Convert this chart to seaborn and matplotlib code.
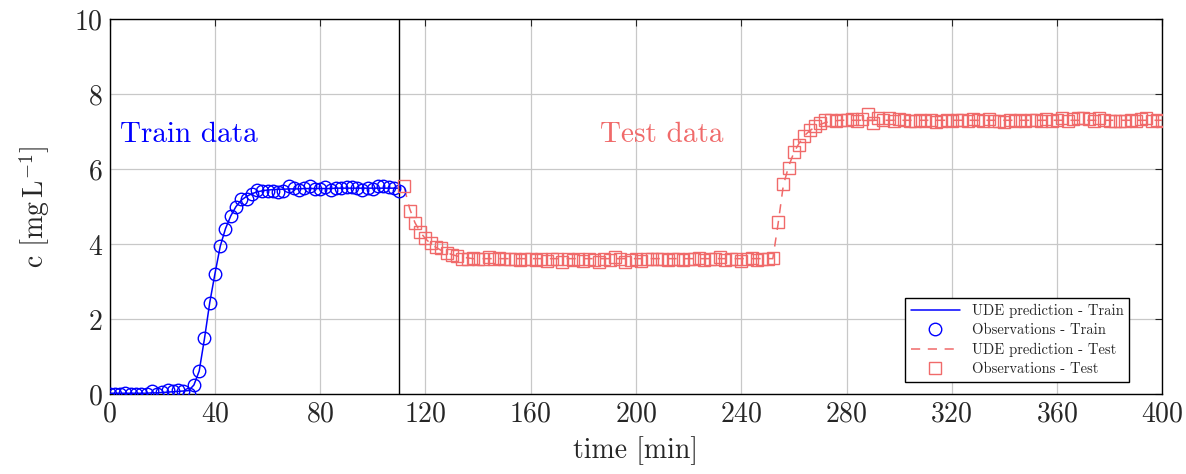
import numpy as np
import pandas as pd
import seaborn as sns
import matplotlib.pyplot as plt
from matplotlib.lines import Line2D

# sampling grids [min]
t_train = np.arange(0, 111, 2)
t_test = np.arange(112, 401, 2)

obs_train = [0.02, 0.00, 0.02, 0.04, 0.02, 0.00, 0.02, 0.00, 0.09, 0.02, 0.05, 0.11,
             0.09, 0.11, 0.08, 0.02, 0.26, 0.62, 1.50, 2.44, 3.22, 3.96, 4.42, 4.75,
             5.00, 5.20, 5.22, 5.35, 5.44, 5.42, 5.43, 5.42, 5.40, 5.42, 5.57, 5.50,
             5.44, 5.50, 5.55, 5.48, 5.47, 5.52, 5.45, 5.50, 5.50, 5.52, 5.52, 5.50,
             5.44, 5.50, 5.48, 5.57, 5.55, 5.53, 5.50, 5.42]
pred_train = [0.03, 0.03, 0.03, 0.03, 0.03, 0.03, 0.03, 0.03, 0.04, 0.04, 0.05, 0.06,
              0.07, 0.08, 0.09, 0.10, 0.25, 0.62, 1.48, 2.44, 3.22, 3.95, 4.42, 4.76,
              5.01, 5.18, 5.28, 5.35, 5.40, 5.43, 5.45, 5.46, 5.47, 5.47, 5.48, 5.48,
              5.48, 5.49, 5.49, 5.49, 5.49, 5.49, 5.49, 5.50, 5.50, 5.50, 5.50, 5.50,
              5.50, 5.50, 5.50, 5.50, 5.50, 5.50, 5.50, 5.50]

obs_test = [5.57, 4.89, 4.56, 4.34, 4.18, 4.04, 3.92, 3.90, 3.78, 3.72, 3.68, 3.62,
            3.60, 3.64, 3.60, 3.62, 3.66, 3.60, 3.64, 3.62, 3.60, 3.62, 3.58, 3.60,
            3.62, 3.58, 3.60, 3.56, 3.60, 3.62, 3.52, 3.60, 3.58, 3.62, 3.56, 3.62,
            3.58, 3.54, 3.60, 3.58, 3.66, 3.60, 3.54, 3.58, 3.60, 3.56, 3.62, 3.60,
            3.62, 3.60, 3.58, 3.62, 3.60, 3.58, 3.62, 3.60, 3.64, 3.58, 3.62, 3.60,
            3.66, 3.58, 3.60, 3.62, 3.56, 3.60, 3.64, 3.58, 3.60, 3.62, 3.65,
            4.60, 5.60, 6.04, 6.47, 6.64, 6.89, 7.05, 7.17, 7.24, 7.31, 7.31, 7.30,
            7.33, 7.32, 7.35, 7.30, 7.34, 7.49, 7.24, 7.38, 7.32, 7.36, 7.30, 7.34,
            7.31, 7.29, 7.30, 7.33, 7.30, 7.32, 7.27, 7.30, 7.31, 7.30, 7.33, 7.31,
            7.30, 7.34, 7.32, 7.30, 7.35, 7.28, 7.30, 7.26, 7.32, 7.30, 7.33, 7.30,
            7.31, 7.32, 7.28, 7.34, 7.30, 7.32, 7.36, 7.28, 7.34, 7.36, 7.38, 7.34,
            7.30, 7.38, 7.32, 7.30, 7.29, 7.28, 7.30, 7.32, 7.30, 7.34, 7.36, 7.30,
            7.32, 7.30]
pred_test = ([5.50, 4.95, 4.58, 4.33, 4.15, 4.02, 3.92, 3.84, 3.78, 3.73, 3.69, 3.66,
              3.64] + [3.62] * 58 +
             [4.55, 5.58, 6.08, 6.45, 6.70, 6.90, 7.03, 7.13, 7.20, 7.25, 7.28, 7.30]
             + [7.31] * 62)

blue = "#0000ff"
red = "#f06a6a"

train = pd.DataFrame({"t": t_train, "obs": obs_train, "pred": pred_train})
test = pd.DataFrame({"t": t_test, "obs": obs_test, "pred": pred_test})

sns.set_style("white")
plt.rcParams["font.family"] = "serif"
plt.rcParams["font.serif"] = ["cmr10", "DejaVu Serif"]
plt.rcParams["mathtext.fontset"] = "cm"
plt.rcParams["axes.formatter.use_mathtext"] = True

fig = plt.figure(figsize=(11.86, 4.74), dpi=100)
ax = fig.add_axes([0.0925, 0.168, 0.8875, 0.791])

ax.axvline(110, color="black", lw=1.0, zorder=3)

sns.lineplot(data=train, x="t", y="pred", color=blue, lw=1.1, ax=ax, zorder=4)
sns.lineplot(data=train, x="t", y="obs", linestyle="", marker="o", markersize=9,
             markerfacecolor="none", markeredgecolor=blue, markeredgewidth=1.0,
             ax=ax, zorder=5)
sns.lineplot(data=test, x="t", y="pred", color=red, lw=1.1, dashes=(6, 5), ax=ax, zorder=4)
sns.lineplot(data=test, x="t", y="obs", linestyle="", marker="s", markersize=8.5,
             markerfacecolor="none", markeredgecolor=red, markeredgewidth=1.0,
             ax=ax, zorder=5)

ax.text(3.9, 6.72, "Train data", color=blue, fontsize=21, va="baseline")
ax.text(186.2, 6.72, "Test data", color=red, fontsize=21, va="baseline")

ax.set_xlim(0, 400)
ax.set_ylim(0, 10)
ax.set_xticks(np.arange(0, 401, 40))
ax.set_yticks(np.arange(0, 11, 2))
ax.grid(True, color="#c8c8c8", lw=0.9)
ax.tick_params(direction="in", length=5, width=0.8, labelsize=20, top=True, right=True,
               pad=5)
for s in ax.spines.values():
    s.set_color("black")
    s.set_linewidth(1.0)

ax.set_xlabel("time [min]", fontsize=20, labelpad=6)
ax.set_ylabel(r"c $\left[\mathrm{mg\,L}^{-1}\right]$", fontsize=20, labelpad=16)

handles = [
    Line2D([], [], color=blue, lw=1.1),
    Line2D([], [], linestyle="", marker="o", markersize=9, markerfacecolor="none",
           markeredgecolor=blue),
    Line2D([], [], color=red, lw=1.1, dashes=(6, 5)),
    Line2D([], [], linestyle="", marker="s", markersize=8.5, markerfacecolor="none",
           markeredgecolor=red),
]
labels = ["UDE prediction - Train", "Observations - Train",
          "UDE prediction - Test", "Observations - Test"]
leg = ax.legend(handles, labels, loc="lower right", bbox_to_anchor=(0.9687, 0.0328),
                borderaxespad=0, fontsize=10.5, handlelength=3.4, labelspacing=0.38,
                fancybox=False, framealpha=1, edgecolor="black", numpoints=1)
leg.get_frame().set_linewidth(1.0)

plt.savefig("out.png", dpi=100)
